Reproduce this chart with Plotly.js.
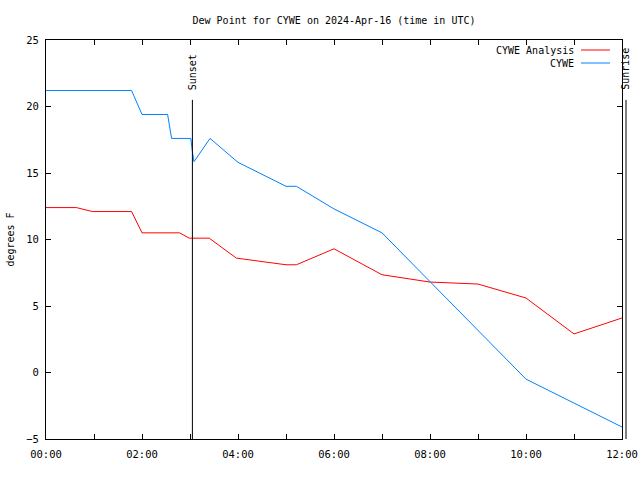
<!DOCTYPE html>
<html>
<head>
<meta charset="utf-8">
<script src="https://cdn.plot.ly/plotly-3.0.1.min.js"></script>
<style>html,body{margin:0;padding:0;background:#fff}#chart{width:640px;height:480px}</style>
</head>
<body>
<div id="chart"></div>
<script>
// ---- data ----
const analysisTimes = ["00:00","00:38","00:58","01:47","02:00","02:47","02:59","03:24","03:58","05:00","05:13","06:00","07:00","08:00","09:00","10:00","11:00","12:00"];
const analysisValues = [12.4,12.4,12.1,12.1,10.5,10.5,10.1,10.1,8.6,8.1,8.1,9.3,7.35,6.8,6.65,5.6,2.9,4.1];
const obsTimes = ["00:00","01:47","02:00","02:32","02:37","03:01","03:03","03:05","03:25","04:00","05:00","05:13","06:00","07:00","10:00","12:00"];
const obsValues = [21.2,21.2,19.4,19.4,17.6,17.6,16.6,15.85,17.6,15.8,14.0,14.0,12.3,10.5,-0.5,-4.1];
const seriesNames = ["CYWE Analysis","CYWE"];
const seriesColors = ["#ff0000","#0080ff"];
const tickLabels = ["00:00","","02:00","","04:00","","06:00","","08:00","","10:00","","12:00"];
const sunsetTime = "03:03";
const sunriseTime = "12:05";
const titleText = "Dew Point for CYWE on 2024-Apr-16 (time in UTC)";
const yTitle = "degrees F";

function toH(s){const p=s.split(":");return +p[0]+(+p[1])/60;}
const xRange=[0,12], yRange=[-5,25];
const tickVals = tickLabels.map((_,i)=>i);
const FONT = "DejaVu Sans Mono, monospace";

const traces = [
  {x: analysisTimes.map(toH), y: analysisValues, mode:"lines", name: seriesNames[0], line:{color:seriesColors[0], width:1}},
  {x: obsTimes.map(toH), y: obsValues, mode:"lines", name: seriesNames[1], line:{color:seriesColors[1], width:1}}
];

function px(t){return (toH(t)-xRange[0])/(xRange[1]-xRange[0]);}

const shapes = [
  {type:"line", xref:"paper", yref:"paper", x0:px(sunsetTime), x1:px(sunsetTime), y0:0, y1:0.85, line:{color:"#000", width:1}},
  {type:"line", xref:"paper", yref:"paper", x0:px(sunriseTime), x1:px(sunriseTime), y0:0, y1:0.85, line:{color:"#000", width:1}},
  // legend samples
  {type:"line", xref:"paper", yref:"paper", x0:(581-46)/576, x1:(610-46)/576, y0:(439-50)/399, y1:(439-50)/399, line:{color:seriesColors[0], width:1}},
  {type:"line", xref:"paper", yref:"paper", x0:(581-46)/576, x1:(610-46)/576, y0:(439-63)/399, y1:(439-63)/399, line:{color:seriesColors[1], width:1}}
];

const annotations = [
  {xref:"paper", yref:"paper", x:px(sunsetTime), y:0.87, text:"Sunset", textangle:-90, showarrow:false, xanchor:"center", yanchor:"bottom", font:{family:FONT, size:10, color:"#000"}},
  {xref:"paper", yref:"paper", x:px(sunriseTime), y:0.87, text:"Sunrise", textangle:-90, showarrow:false, xanchor:"center", yanchor:"bottom", font:{family:FONT, size:10, color:"#000"}},
  {xref:"paper", yref:"paper", x:(576-46)/576, y:(439-50)/399, text:seriesNames[0], showarrow:false, xanchor:"right", yanchor:"middle", font:{family:FONT, size:10, color:"#000"}},
  {xref:"paper", yref:"paper", x:(576-46)/576, y:(439-63)/399, text:seriesNames[1], showarrow:false, xanchor:"right", yanchor:"middle", font:{family:FONT, size:10, color:"#000"}}
];

const axisCommon = {showline:true, linecolor:"#000", linewidth:1, mirror:"allticks", ticks:"inside", ticklen:5, tickcolor:"#000", showgrid:false, zeroline:false, tickfont:{family:FONT, size:10.5, color:"#000"}};

const layout = {
  width:640, height:480,
  margin:{l:46, r:18, t:40, b:41},
  paper_bgcolor:"#fff", plot_bgcolor:"#fff",
  showlegend:false,
  title:{text:titleText, font:{family:FONT, size:10, color:"#000"}, x:(334)/640, xanchor:"center", y:1-20/480, yanchor:"middle"},
  xaxis:Object.assign({}, axisCommon, {range:xRange, tickmode:"array", tickvals:tickVals, ticktext:tickLabels, ticklabelstandoff:5}),
  yaxis:Object.assign({}, axisCommon, {range:yRange, dtick:5, tick0:0, ticklabelstandoff:4, title:{text:yTitle, font:{family:FONT, size:10, color:"#000"}, standoff:9}}),
  shapes:shapes,
  annotations:annotations
};

Plotly.newPlot("chart", traces, layout, {displayModeBar:false, staticPlot:true});
</script>
</body>
</html>
